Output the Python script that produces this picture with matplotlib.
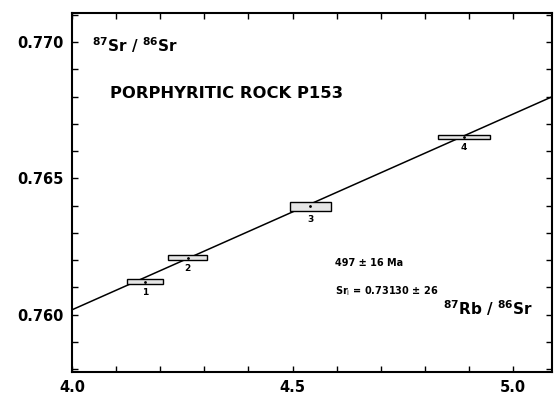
import numpy as np
import matplotlib
matplotlib.use("Agg")
import matplotlib.pyplot as plt
from matplotlib.patches import Rectangle
from matplotlib.ticker import MultipleLocator, FormatStrFormatter

# Rb-Sr isochron data
sample_ids = ["1", "2", "3", "4"]
rb_sr = [4.166, 4.262, 4.540, 4.889]
sr_sr = [0.76121, 0.76209, 0.76397, 0.76652]
rb_err = [0.041, 0.044, 0.046, 0.059]
sr_err = [0.00009, 0.00009, 0.00017, 0.00008]

# isochron fit (as drawn)
slope = 0.00718
intercept = 0.73146

fig = plt.figure(figsize=(5.54, 3.97), dpi=100)
ax = fig.add_axes([0.130, 0.063, 0.8664, 0.904])

xlo, xhi = 4.0, 5.088
ylo, yhi = 0.7579, 0.77106

xs = np.array([xlo, xhi])
ax.plot(xs, intercept + slope * xs, color="black", lw=1.1, zorder=2)

for i in range(len(rb_sr)):
    box = Rectangle((rb_sr[i] - rb_err[i], sr_sr[i] - sr_err[i]),
                    2 * rb_err[i], 2 * sr_err[i],
                    facecolor="#e6e6e6", edgecolor="black", lw=1.0, zorder=3)
    ax.add_patch(box)
    ax.plot(rb_sr[i], sr_sr[i], marker=".", ms=2, color="black", zorder=4)
    ax.text(rb_sr[i], sr_sr[i] - sr_err[i] - 0.00013, sample_ids[i],
            ha="center", va="top", fontsize=6.5, fontweight="bold",
            family="Liberation Sans Narrow")

ax.set_xlim(xlo, xhi)
ax.set_ylim(ylo, yhi)

ax.xaxis.set_major_locator(MultipleLocator(0.5))
ax.xaxis.set_minor_locator(MultipleLocator(0.1))
ax.yaxis.set_major_locator(MultipleLocator(0.005))
ax.yaxis.set_minor_locator(MultipleLocator(0.001))
ax.xaxis.set_major_formatter(FormatStrFormatter("%.1f"))
ax.yaxis.set_major_formatter(FormatStrFormatter("%.3f"))

ax.tick_params(which="both", direction="in", top=True, right=True,
               length=4, width=1.0, labelsize=10.5, pad=6)
for lab in ax.get_xticklabels() + ax.get_yticklabels():
    lab.set_fontweight("bold")
for sp in ax.spines.values():
    sp.set_linewidth(1.5)

ax.text(4.045, 0.7699, r"$^{\mathbf{87}}$Sr / $^{\mathbf{86}}$Sr", fontsize=11,
        fontweight="bold", ha="left", va="center")
ax.text(4.085, 0.76813, "PORPHYRITIC ROCK P153", fontsize=11.8,
        fontweight="bold", ha="left", va="center")
ax.text(4.595, 0.76191, "497 ± 16 Ma", fontsize=7, ha="left", va="center",
        family="Liberation Sans Narrow", fontweight="bold")
ax.text(4.595, 0.76088, "Sr$_{\\rm i}$ = 0.73130 ± 26", fontsize=7, ha="left",
        va="center", family="Liberation Sans Narrow", fontweight="bold")
ax.text(4.84, 0.76025, r"$^{\mathbf{87}}$Rb / $^{\mathbf{86}}$Sr", fontsize=11,
        fontweight="bold", ha="left", va="center")

fig.savefig("out.png", dpi=100)
